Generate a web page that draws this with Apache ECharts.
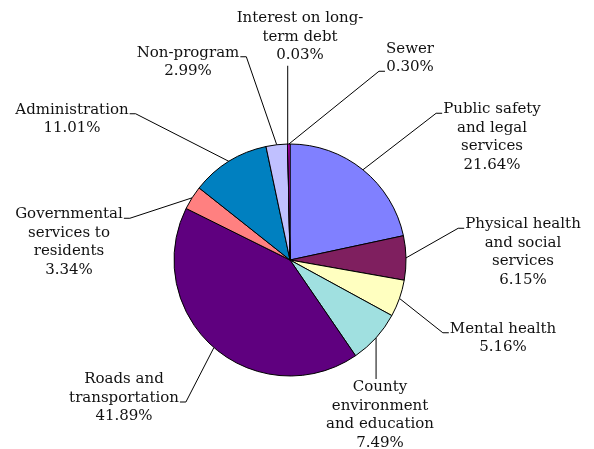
<!DOCTYPE html>
<html>
<head>
<meta charset="utf-8">
<script src="https://cdn.jsdelivr.net/npm/echarts@6/dist/echarts.min.js"></script>
<style>html,body{margin:0;padding:0;background:#fff}#c{width:594px;height:449px}</style>
</head>
<body>
<div id="c"></div>
<script>
// ---- data ----
var categories = [
  'Public safety\nand legal\nservices',
  'Physical health\nand social\nservices',
  'Mental health',
  'County\nenvironment\nand education',
  'Roads and\ntransportation',
  'Governmental\nservices to\nresidents',
  'Administration',
  'Non-program',
  'Interest on long-\nterm debt',
  'Sewer'
];
var values = [21.64, 6.15, 5.16, 7.49, 41.89, 3.34, 11.01, 2.99, 0.03, 0.30];
var colors = ['#8080FF', '#7F1F5F', '#FFFFC0', '#A0E0E0', '#5F007F', '#FF8080', '#0080C0', '#C0C0FF', '#000080', '#FF00FF'];

// ---- label layout (positions only) ----
var labelCenters = [[492,137],[523,252],[503,338],[380,415],[124,398],[69,242],[72,119],[188,62],[300,37],[410,58]];
var attach = [['l',0],['l',0],['l',0],['t',0],['r',1],['r',0],['r',0],['r',0],['b',0],['l',1]];
var LH = 18.5;

var chart = echarts.init(document.getElementById('c'), null, {renderer: 'canvas'});
chart.setOption({
  backgroundColor: '#ffffff',
  animation: false,
  series: [{
    type: 'pie',
    center: [290, 260],
    radius: 116,
    startAngle: 90,
    clockwise: true,
    avoidLabelOverlap: false,
    color: colors,
    itemStyle: {borderColor: '#000', borderWidth: 1},
    label: {
      show: true,
      position: 'outside',
      fontFamily: 'DejaVu Serif',
      fontSize: 15,
      lineHeight: LH,
      color: '#111',
      align: 'center',
      formatter: function (p) { return categories[p.dataIndex] + '\n' + p.value.toFixed(2) + '%'; }
    },
    labelLine: {show: true, length: 10, length2: 10, lineStyle: {color: '#000', width: 1}},
    emphasis: {disabled: true},
    data: values.map(function (v, i) { return {name: categories[i], value: v}; }),
    labelLayout: function (params) {
      var i = params.dataIndex;
      var c = labelCenters[i];
      var w = params.labelRect.width, h = params.labelRect.height;
      var left = c[0] - w / 2, right = c[0] + w / 2, top = c[1] - h / 2, bottom = c[1] + h / 2;
      var p0 = params.labelLinePoints ? params.labelLinePoints[0] : [290, 260];
      var a = attach[i], pts;
      if (a[0] === 'l') {
        var y = top + a[1] * LH + LH / 2 + 4;
        pts = [p0, [left - 7, y], [left - 1, y]];
      } else if (a[0] === 'r') {
        var y2 = top + a[1] * LH + LH / 2 + 4;
        pts = [p0, [right + 7, y2], [right + 1, y2]];
      } else if (a[0] === 't') {
        pts = [p0, [p0[0], top + 1]];
      } else {
        pts = [p0, [p0[0], bottom + 1]];
      }
      return {x: c[0], y: c[1], align: 'center', verticalAlign: 'middle', labelLinePoints: pts};
    }
  }]
});
</script>
</body>
</html>
